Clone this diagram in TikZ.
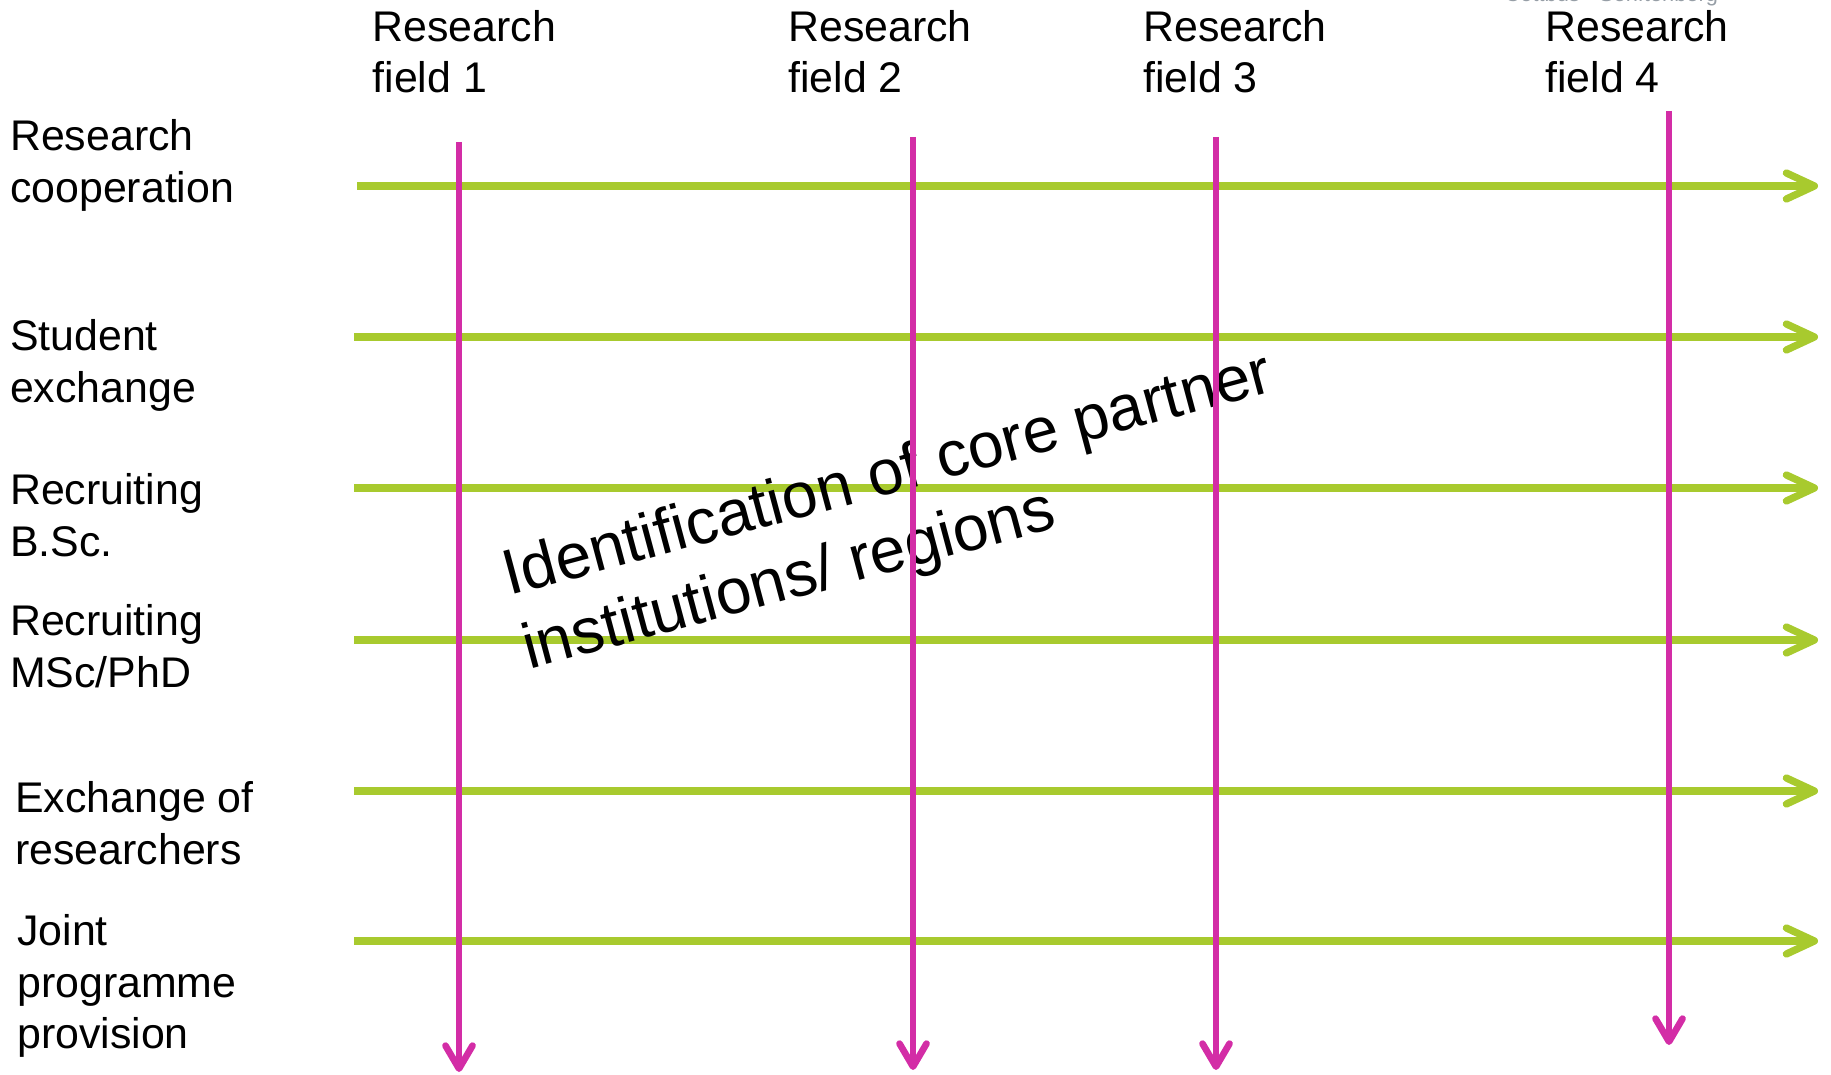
\documentclass[tikz,border=0pt]{standalone}
\usepackage{fontspec}
\setmainfont{Liberation Sans}
\usetikzlibrary{positioning,arrows.meta}
\definecolor{linegreen}{RGB}{168,202,46}
\definecolor{linepink}{RGB}{211,45,166}
\definecolor{capgray}{RGB}{150,158,166}
\begin{document}
\begin{tikzpicture}[x=1cm, y=1cm,
    lab/.style = {anchor=north west, inner sep=0pt, align=left, font=\fontsize{12.2}{14.6}\selectfont},
    grn/.style = {draw=linegreen, line width=0.073cm, -{Straight Barb[round,length=2.8mm,width=2.6mm]}},
    pnk/.style = {draw=linepink, line width=0.067cm, -{Straight Barb[round,length=2.3mm,width=2.7mm]}}]
    \useasboundingbox (0,0) rectangle (18.31,-10.75);

    % rows
    \node[lab] (r1) at (0.094,-1.19) {Research\\cooperation};
    \node[lab] (r2) at (0.094,-3.19) {Student\\exchange};
    \node[lab] (r3) at (0.094,-4.73) {Recruiting\\B.Sc.};
    \node[lab] (r4) at (0.094,-6.04) {Recruiting\\MSc/PhD};
    \node[lab] (r5) at (0.145,-7.81) {Exchange of\\researchers};
    \node[lab] (r6) at (0.165,-9.14) {Joint\\programme\\provision};

    % columns
    \node[lab] (f1) at (3.72,-0.095) {Research\\field 1};
    \node[lab] (f2) at (7.875,-0.095) {Research\\field 2};
    \node[lab] (f3) at (11.425,-0.095) {Research\\field 3};
    \node[lab] (f4) at (15.445,-0.095) {Research\\field 4};
    \node[anchor=base west, inner sep=0pt, text=capgray, font=\fontsize{6.2}{7}\selectfont] (btu) at (15.04,-0.02) {Cottbus - Senftenberg};

    \coordinate (g1a) at (3.57,-1.86);  \coordinate (g1b) at (18.18,-1.86);
    \coordinate (g2a) at (3.54,-3.37);  \coordinate (g2b) at (18.18,-3.37);
    \coordinate (g3a) at (3.54,-4.88);  \coordinate (g3b) at (18.18,-4.88);
    \coordinate (g4a) at (3.54,-6.40);  \coordinate (g4b) at (18.18,-6.40);
    \coordinate (g5a) at (3.54,-7.91);  \coordinate (g5b) at (18.18,-7.91);
    \coordinate (g6a) at (3.54,-9.41);  \coordinate (g6b) at (18.18,-9.41);

    \draw[grn] (g1a) -- (g1b);
    \draw[grn] (g2a) -- (g2b);
    \draw[grn] (g3a) -- (g3b);
    \draw[grn] (g4a) -- (g4b);
    \draw[grn] (g5a) -- (g5b);
    \draw[grn] (g6a) -- (g6b);

    \node[rotate=15, inner sep=0pt, align=left, font=\fontsize{18.2}{21.6}\selectfont] (core) at (8.98,-5.14)
        {Identification of core partner\\institutions/ regions};

    \coordinate (p1a) at (4.59,-1.42);  \coordinate (p1b) at (4.59,-10.72);
    \coordinate (p2a) at (9.13,-1.37);  \coordinate (p2b) at (9.13,-10.70);
    \coordinate (p3a) at (12.16,-1.37); \coordinate (p3b) at (12.16,-10.70);
    \coordinate (p4a) at (16.69,-1.11); \coordinate (p4b) at (16.69,-10.45);

    %fields run down
    \draw[pnk] (p1a) -- (p1b);
    \draw[pnk] (p2a) -- (p2b);
    \draw[pnk] (p3a) -- (p3b);
    \draw[pnk] (p4a) -- (p4b);
\end{tikzpicture}
\end{document}
